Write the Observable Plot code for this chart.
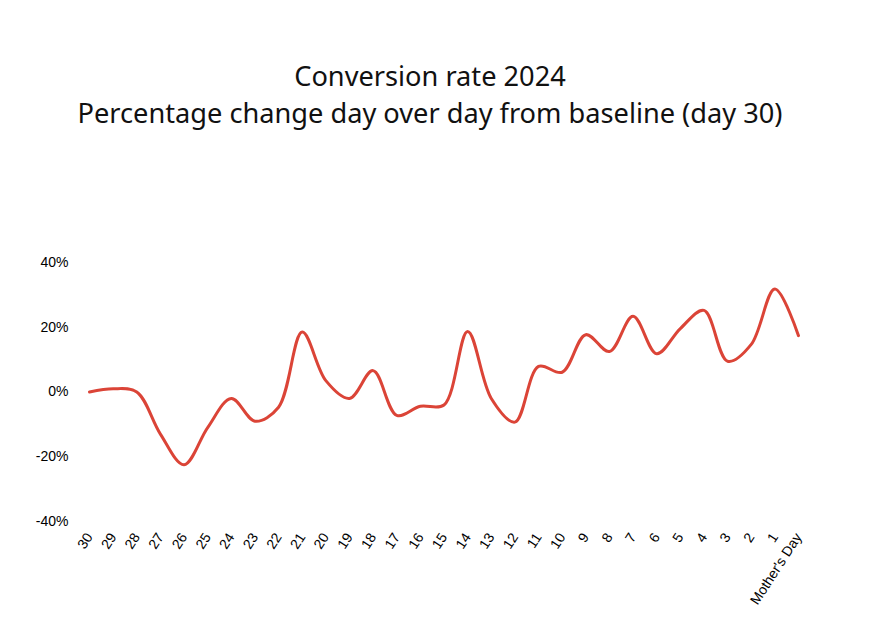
<!DOCTYPE html>
<html>
<head>
<meta charset="utf-8">
<script src="https://cdn.jsdelivr.net/npm/d3@7"></script>
<script src="https://cdn.jsdelivr.net/npm/@observablehq/plot@0.6"></script>
<style>
  html, body { margin: 0; padding: 0; background: #fff; }
  #title { height: 160px; box-sizing: border-box; padding-top: 57px; padding-right: 18px; text-align: center;
           font-family: "Noto Sans", Roboto, sans-serif; font-size: 27.2px; line-height: 37px; color: #111; }
  #chart svg { display: block; }
</style>
</head>
<body>
<div id="title">Conversion rate 2024<br>Percentage change day over day from baseline (day 30)</div>
<div id="chart"></div>
<script>
const days = ["30","29","28","27","26","25","24","23","22","21","20","19","18","17","16","15",
              "14","13","12","11","10","9","8","7","6","5","4","3","2","1","Mother's Day"];
const changePct = [0, 1, 0, -13, -22.5, -11, -2, -9, -4.7, 18.5, 3.5, -2, 6.6, -7.2, -4.4, -4,
                   18.7, -2, -9.3, 7.9, 6.1, 17.7, 12.5, 23.4, 11.8, 19.6, 25.2, 9.5, 14.7, 31.8, 17.4];
const yTicks = [-40, -20, 0, 20, 40];

const data = days.map((d, i) => ({day: d, value: changePct[i]}));

const chart = Plot.plot({
  width: 878,
  height: 480,
  marginTop: 102,
  marginBottom: 119,
  marginLeft: 89,
  marginRight: 80,
  style: {fontFamily: "'Liberation Sans', Arial, sans-serif", fontSize: "13px", color: "#000"},
  x: {type: "point", domain: days, padding: 0, round: false, label: null},
  y: {domain: [-40, 40], label: null},
  marks: [
    Plot.axisY({ticks: yTicks, tickFormat: d => d + "%", tickSize: 0, tickPadding: 21, fontSize: 14, label: null}),
    Plot.axisX({tickSize: 0, tickPadding: 13, tickRotate: -57, fontSize: 14, label: null}),
    Plot.line(data, {x: "day", y: "value", curve: "catmull-rom", stroke: "#db4437", strokeWidth: 3})
  ]
});
document.getElementById("chart").appendChild(chart);
</script>
</body>
</html>
